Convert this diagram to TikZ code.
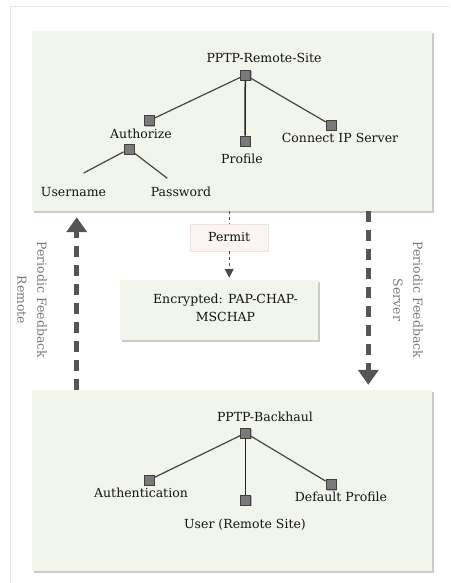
\documentclass[tikz,border=0pt]{standalone}
\usepackage{fontspec}
\setmainfont{DejaVu Serif}
\usetikzlibrary{arrows.meta,shadows}
\definecolor{panelfill}{HTML}{F2F5EC}
\definecolor{permitfill}{HTML}{FAF4F4}
\definecolor{permitedge}{HTML}{F0E0E0}
\definecolor{framegray}{HTML}{E6E6E6}
\definecolor{boxgray}{HTML}{7A7A7A}
\definecolor{edgegray}{HTML}{454545}
\definecolor{feedgray}{HTML}{555555}
\definecolor{sidegray}{HTML}{7A7A7A}
\definecolor{textgray}{HTML}{141414}
\tikzset{
  panel/.style={rectangle, fill=panelfill, draw=none, inner sep=0pt,
    drop shadow={shadow xshift=2pt, shadow yshift=-2pt, fill=black!40, opacity=0.5}},
  sq/.style={rectangle, draw=black!75, fill=boxgray, line width=0.8pt,
    minimum size=10pt, inner sep=0pt,
    drop shadow={shadow xshift=1.2pt, shadow yshift=-1.2pt, fill=black!35, opacity=0.8}},
  lbl/.style={inner sep=0pt, text=textgray},
  side/.style={rotate=-90, align=center, text=sidegray, inner sep=0pt},
  edge/.style={draw=edgegray, line width=1.2pt},
  stem/.style={draw=black!85, line width=1.5pt},
  feed/.style={draw=feedgray, line width=4.5pt, dash pattern=on 11pt off 8pt,
    -{Triangle[width=20pt,length=15pt]}},
  dotlink/.style={draw=black!70, line width=1pt, dash pattern=on 3pt off 3pt}
}
\begin{document}
\begin{tikzpicture}[x=1pt, y=-1pt, font=\fontsize{12.5}{15}\selectfont]
  \useasboundingbox (0,0) rectangle (450,583);
  \draw[framegray, line width=1pt] (450,7) -- (10,7) -- (10,583);
  % panels
  \node[panel, minimum width=400pt, minimum height=180pt] (top) at (232,121) {};
  \node[panel, minimum width=400pt, minimum height=181pt] (bot) at (232,480.5) {};
  \node[panel, minimum width=198pt, minimum height=60pt] (enc) at (219.3,310) {};
  \node[lbl, align=center] (enctxt) at (225.5,308) {Encrypted: PAP-CHAP-\\[3pt]MSCHAP};
  \node[rectangle, fill=permitfill, draw=permitedge, line width=0.6pt, text=textgray,
    minimum width=78pt, minimum height=27pt, inner sep=0pt] (permit) at (229.2,237.4) {Permit};
  % remote site tree
  \node[sq] (r) at (245.3,75) {};
  \node[lbl] (rtxt) at (264,58) {PPTP-Remote-Site};
  \node[sq] (a) at (149,120.7) {};
  \node[lbl] (atxt) at (141,134) {Authorize};
  \node[sq] (a2) at (129,149) {};
  \node[sq] (p) at (245,141) {};
  \node[lbl] (ptxt) at (242,159) {Profile};
  \node[sq] (c) at (331,125) {};
  \node[lbl] (ctxt) at (340,137.7) {Connect IP Server};
  \coordinate (u) at (83.7,173);
  \coordinate (pw) at (167.3,178.3);
  \node[lbl] (utxt) at (73.5,192.5) {Username};
  \node[lbl] (pwtxt) at (181,191.5) {Password};
  % backhaul tree
  \node[sq] (b) at (245.7,433) {};
  \node[lbl] (btxt) at (265,417) {PPTP-Backhaul};
  \node[sq] (au) at (149,480) {};
  \node[lbl] (autxt) at (141,493) {Authentication};
  \node[sq] (us) at (245.7,500) {};
  \node[lbl] (ustxt) at (245,525) {User (Remote Site)};
  \node[sq] (dp) at (331,484.3) {};
  \node[lbl] (dptxt) at (341,497.3) {Default Profile};
  \begin{scope}[edge]
    \draw (r) to (a);
    \draw (r) to (c);
    \draw (a2) to (u);
    \draw (a2) to (pw);
    \draw (b) to (au);
    \draw (b) to (dp);
  \end{scope}
  \draw[stem] (r) to (p);
  \draw[stem] (b) to (us);
  % feedback
  \node[side] (fl) at (32,300) {Periodic Feedback\\[5pt]Remote};
  \node[side] (fr) at (408,300) {Periodic Feedback\\[5pt]Server};
  \coordinate (lx) at (76.7,0);
  \coordinate (rx) at (368.3,0);
  \draw[feed, shorten >=6pt] (bot.north -| lx) -- (top.south -| lx);
  \draw[feed, shorten >=5pt] (top.south -| rx) -- (bot.north -| rx);
  \draw[dotlink] (top.south -| permit) -- (permit);
  \draw[dotlink, shorten >=2pt, -{Triangle[width=9pt,length=9pt]}] (permit) -- (permit |- enc.north);
\end{tikzpicture}
\end{document}
